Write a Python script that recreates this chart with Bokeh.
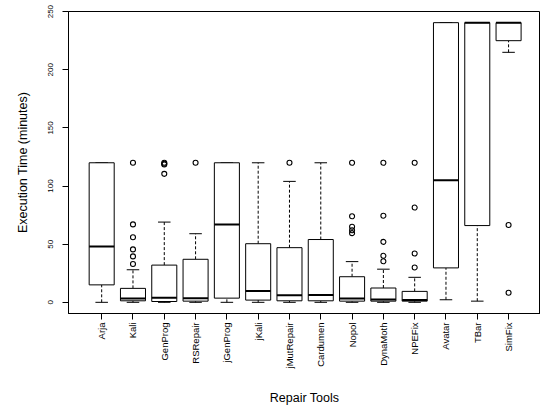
import numpy as np
from bokeh.plotting import figure
from bokeh.models import Range1d, FixedTicker, ColumnDataSource
from bokeh.embed import file_html
from bokeh.resources import INLINE

# ---- data ----
tools = ["Arja", "Kali", "GenProg", "RSRepair", "jGenProg", "jKali", "jMutRepair",
         "Cardumen", "Nopol", "DynaMoth", "NPEFix", "Avatar", "TBar", "SimFix"]
whisker_lo = [0, 0, 0, 0, 0, 0, 0, 0, 0, 0, 0, 2.2, 1.0, 215]
q1 =         [15, 1.3, 0.7, 1.0, 3.6, 1.9, 1.3, 1.3, 1.0, 1.0, 1.0, 29.6, 66, 225]
median =     [48, 3.3, 4.0, 3.6, 67, 9.7, 6.0, 6.2, 3.3, 2.5, 2.0, 105, 240.5, 240.5]
q3 =         [120, 12, 32, 37, 120, 50.4, 47, 54, 22, 12.3, 9.4, 240.5, 240.5, 240.5]
whisker_hi = [120, 28, 69, 59, 120, 120, 104, 120, 35, 28.5, 21.5, 240.5, 240.5, 240.5]
outliers = [
    [],
    [33, 39.5, 45.5, 56, 67, 120],
    [110.5, 118.5, 119.2, 120],
    [120],
    [],
    [],
    [120],
    [],
    [59.5, 62, 65, 74, 120],
    [35.3, 40, 52, 74.5, 120],
    [30, 42, 81.5, 120],
    [],
    [],
    [66.5, 8.2],
]
y_ticks = [0, 50, 100, 150, 200, 250]

FONT = "Liberation Sans"

n = len(tools)
xs = np.arange(1, n + 1, dtype=float)
box_w = 0.8
staple_w = 0.4

src = ColumnDataSource(dict(
    x=xs, lo=whisker_lo, q1=q1, med=median, q3=q3, hi=whisker_hi,
    bl=xs - box_w / 2, br=xs + box_w / 2,
    sl=xs - staple_w / 2, sr=xs + staple_w / 2,
))

ox = [xs[i] for i, o in enumerate(outliers) for _ in o]
oy = [v for o in outliers for v in o]

p = figure(width=540, height=410,
           x_range=Range1d(-0.06, 15.02), y_range=Range1d(-9.62, 250.1),
           output_backend="svg", toolbar_location=None,
           min_border_left=68, min_border_right=0, min_border_top=11, min_border_bottom=97)

# whiskers (dashed)
p.segment(x0="x", y0="q3", x1="x", y1="hi", source=src, line_color="black",
          line_width=1, line_dash="3 2")
p.segment(x0="x", y0="lo", x1="x", y1="q1", source=src, line_color="black",
          line_width=1, line_dash="3 2")
# staples
p.segment(x0="sl", y0="hi", x1="sr", y1="hi", source=src, line_color="black", line_width=1)
p.segment(x0="sl", y0="lo", x1="sr", y1="lo", source=src, line_color="black", line_width=1)
# boxes
p.vbar(x="x", width=box_w, bottom="q1", top="q3", source=src,
       fill_color="white", line_color="black", line_width=1)
# medians
p.segment(x0="bl", y0="med", x1="br", y1="med", source=src, line_color="black", line_width=2)
# outliers
p.scatter(ox, oy, marker="circle", size=5, fill_color=None, line_color="black", line_width=1.1)

p.xgrid.visible = False
p.ygrid.visible = False
p.outline_line_color = "black"
p.outline_line_width = 1
p.outline_line_alpha = 1
p.background_fill_color = "white"
p.border_fill_color = "white"

# x axis
p.xaxis.ticker = FixedTicker(ticks=list(xs))
p.xaxis.major_label_overrides = {float(x): t for x, t in zip(xs, tools)}
p.xaxis.major_label_orientation = np.pi / 2
p.xaxis.major_label_text_font = FONT
p.xaxis.major_label_text_font_size = "9.5px"
p.xaxis.major_label_standoff = 3
p.xaxis.axis_label = "Repair Tools"
p.xaxis.axis_label_text_font = FONT
p.xaxis.axis_label_text_font_size = "12.5px"
p.xaxis.axis_label_text_font_style = "normal"
p.xaxis.axis_label_standoff = 20

# y axis
p.yaxis.ticker = FixedTicker(ticks=y_ticks)
p.yaxis.major_label_orientation = "vertical"
p.yaxis.major_label_text_font = FONT
p.yaxis.major_label_text_font_size = "8px"
p.yaxis.major_label_standoff = 9
p.yaxis.axis_label = "Execution Time (minutes)"
p.yaxis.axis_label_text_font = FONT
p.yaxis.axis_label_text_font_size = "12.5px"
p.yaxis.axis_label_text_font_style = "normal"
p.yaxis.axis_label_standoff = 16

for ax in (p.xaxis, p.yaxis):
    ax.axis_line_color = "black"
    ax.major_tick_line_color = "black"
    ax.major_tick_out = 6
    ax.major_tick_in = 0
    ax.minor_tick_line_color = None
    ax.major_label_text_color = "black"
    ax.axis_label_text_color = "black"

open("out.html", "w").write(file_html(p, INLINE))
